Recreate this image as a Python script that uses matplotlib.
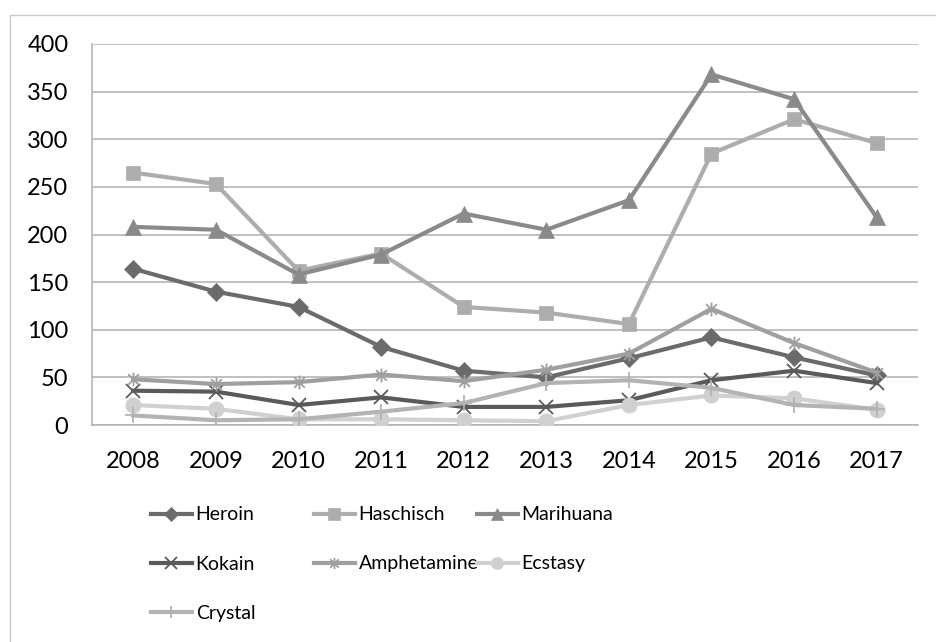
import matplotlib
matplotlib.use("Agg")
import matplotlib.pyplot as plt
from matplotlib.path import Path
from matplotlib.patches import Rectangle

# --- Data ---
years = ["2008", "2009", "2010", "2011", "2012", "2013", "2014", "2015", "2016", "2017"]
heroin = [164, 140, 124, 82, 57, 50, 70, 92, 71, 52]
haschisch = [265, 253, 162, 180, 124, 118, 106, 285, 321, 296]
marihuana = [208, 205, 158, 179, 222, 205, 236, 368, 342, 218]
kokain = [36, 35, 21, 29, 19, 19, 26, 47, 57, 44]
amphetamine = [48, 43, 45, 53, 46, 58, 75, 122, 86, 55]
ecstasy = [21, 17, 6, 6, 5, 4, 21, 31, 28, 16]
crystal = [10, 5, 6, 14, 23, 44, 47, 39, 21, 17]
y_ticks = [0, 50, 100, 150, 200, 250, 300, 350, 400]

# --- Styles ---
star = Path([(-1, -1), (1, 1), (-1, 1), (1, -1), (0, -1.3), (0, 1.3)],
            [Path.MOVETO, Path.LINETO, Path.MOVETO, Path.LINETO, Path.MOVETO, Path.LINETO])

series = [
    ("Heroin", heroin, "#6b6b6b", "D", 9),
    ("Haschisch", haschisch, "#adadad", "s", 10),
    ("Marihuana", marihuana, "#8a8a8a", "^", 11),
    ("Kokain", kokain, "#5a5a5a", "x", 10),
    ("Amphetamine", amphetamine, "#9f9f9f", star, 10),
    ("Ecstasy", ecstasy, "#d0d0d0", "o", 11),
    ("Crystal", crystal, "#b3b3b3", "+", 11),
]

plt.rcParams['font.family'] = ['Lato', 'DejaVu Sans']

W, H = 937, 642
fig = plt.figure(figsize=(W / 100, H / 100), dpi=100)
fig.patches.append(Rectangle((10 / W, -0.1), 1.2, (H - 15) / H + 0.1, transform=fig.transFigure,
                             fill=False, edgecolor="#c8c8c8", linewidth=1.0))

ax = fig.add_axes([92 / W, (H - 425) / H, 826 / W, 381 / H])
x = list(range(len(years)))
lines = {}
for name, vals, color, marker, ms in series:
    thin = marker in ("x", "+") or marker is star
    (ln,) = ax.plot(x, vals, color=color, linewidth=3, marker=marker, markersize=ms,
                    markerfacecolor=color, markeredgecolor=color,
                    markeredgewidth=1.3 if thin else 0.5, label=name, zorder=3)
    lines[name] = ln

ax.set_xlim(-0.5, len(years) - 0.5)
ax.set_ylim(0, 400)
ax.set_yticks(y_ticks)
ax.set_xticks(x)
ax.set_xticklabels(years)
ax.tick_params(axis="both", length=0, labelsize=17)
ax.tick_params(axis="y", pad=17)
ax.tick_params(axis="x", pad=19)
ax.yaxis.grid(True, color="#b5b5b5", linewidth=1.2)
ax.set_axisbelow(True)
for side in ("top", "right"):
    ax.spines[side].set_visible(False)
for side in ("left", "bottom"):
    ax.spines[side].set_color("#b5b5b5")
    ax.spines[side].set_linewidth(1.2)

# Legend: one entry per slot, three columns, row-major like the original
col_x = [151, 314, 477]
row_y = [515, 564, 613]
order = ["Heroin", "Haschisch", "Marihuana", "Kokain", "Amphetamine", "Ecstasy", "Crystal"]
for i, name in enumerate(order):
    r, c = divmod(i, 3)
    fig.legend([lines[name]], [name], loc="center left",
               bbox_to_anchor=(col_x[c] / W, (H - row_y[r]) / H), frameon=False,
               fontsize=14, borderpad=0, borderaxespad=0, handlelength=2.1,
               handletextpad=0.2, markerscale=0.8)

fig.savefig("out.png", dpi=100)
